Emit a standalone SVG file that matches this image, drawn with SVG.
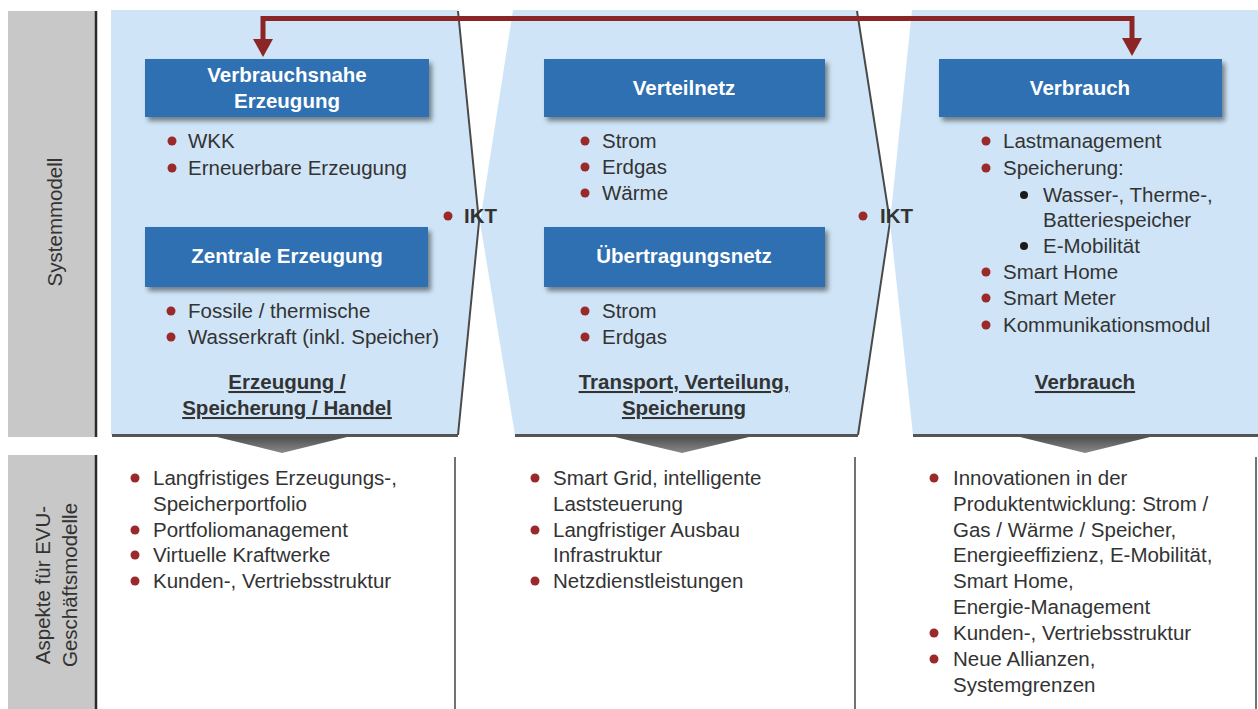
<svg xmlns="http://www.w3.org/2000/svg" width="1258" height="709" viewBox="0 0 1258 709">
<style>
.side{fill:#c8c8c8}
.sideln{stroke:#2a2a2a;stroke-width:2.5}
.panel{fill:#cfe5f7}
.edge{fill:none;stroke:#4a4a4a;stroke-width:2}
.bot{stroke:#555;stroke-width:3}
.box{fill:#2d6fb2;filter:url(#sh)}
.bt{font-family:"Liberation Sans",Arial,sans-serif;font-size:20.5px;font-weight:bold;fill:#fff;text-anchor:middle}
.t{font-family:"Liberation Sans",Arial,sans-serif;font-size:20.5px;fill:#333}
.tb{font-family:"Liberation Sans",Arial,sans-serif;font-size:20.5px;font-weight:bold;fill:#333}
.ul{font-family:"Liberation Sans",Arial,sans-serif;font-size:20.5px;font-weight:bold;fill:#333;text-anchor:middle;text-decoration:underline}
.dot{fill:#9a2a2a}
.bdot{fill:#1a1a1a}
.div{stroke:#444;stroke-width:1.5}
.arrow{fill:none;stroke:#8c2626;stroke-width:5}
.tri{fill:url(#g)}
</style>
<defs>
<filter id="sh" x="-10%" y="-20%" width="125%" height="160%">
<feDropShadow dx="3" dy="4" stdDeviation="2.5" flood-color="#000" flood-opacity="0.45"/>
</filter>
<linearGradient id="g" x1="0" y1="0" x2="0" y2="1">
<stop offset="0" stop-color="#505050"/>
<stop offset="1" stop-color="#8a8a8a"/>
</linearGradient>
<marker id="ah" viewBox="0 0 18 20" refX="2" refY="10" markerWidth="18" markerHeight="20" markerUnits="userSpaceOnUse" orient="auto-start-reverse">
<path d="M0,0 L18,10 L0,20 Z" fill="#8c2626"/>
</marker>
</defs>
<rect width="1258" height="709" fill="#fff"/>

<g id="sidebar-top">
<rect class="side" x="8" y="11" width="87" height="426"/>
<line class="sideln" x1="96" y1="11" x2="96" y2="437"/>
<text class="t" transform="translate(62,222) rotate(-90)" text-anchor="middle" font-size="21.5">Systemmodell</text>
</g>
<g id="sidebar-bottom">
<rect class="side" x="8" y="455" width="87" height="254"/>
<line class="sideln" x1="96" y1="455" x2="96" y2="709"/>
<text class="t" transform="translate(50,585) rotate(-90)" text-anchor="middle" font-size="21">Aspekte für EVU-</text>
<text class="t" transform="translate(77,585) rotate(-90)" text-anchor="middle" font-size="21">Geschäftsmodelle</text>
</g>

<g id="panel1">
<polygon class="panel" points="111,10 458,10 479,222 458,435 111,435"/>
<polyline class="edge" points="458,11 479,222 458,435"/>
<line class="bot" x1="112" y1="435.5" x2="458" y2="435.5"/>
<polygon class="tri" points="217,437 347,437 282,453"/>
<text class="ul" x="287" y="389">Erzeugung /</text>
<text class="ul" x="287" y="415">Speicherung / Handel</text>
</g>
<g id="panel2">
<polygon class="panel" points="513,10 857,10 890,222 858,435 515,435 480,222"/>
<polyline class="edge" points="857,11 890,222 858,435"/>
<line class="bot" x1="515" y1="435.5" x2="858" y2="435.5"/>
<polygon class="tri" points="615,437 749,437 682,453"/>
<text class="ul" x="684" y="389">Transport, Verteilung,</text>
<text class="ul" x="684" y="415">Speicherung</text>
</g>
<g id="panel3">
<polygon class="panel" points="912,10 1258,10 1258,435 913,435 890,222"/>
<line class="bot" x1="913" y1="435.5" x2="1258" y2="435.5"/>
<polygon class="tri" points="1020,437 1150,437 1085,453"/>
<text class="ul" x="1085" y="389">Verbrauch</text>
</g>

<g id="connectors">
<polyline class="arrow" points="263,41 263,18.5 1132,18.5 1132,40" marker-start="url(#ah)" marker-end="url(#ah)"/>
</g>

<g id="verbrauchsnahe-erzeugung">
<rect class="box" x="145" y="59" width="284" height="58"/>
<text class="bt" x="287" y="82">Verbrauchsnahe</text>
<text class="bt" x="287" y="108">Erzeugung</text>
<circle class="dot" cx="172" cy="141" r="4.5"/><text class="t" x="188" y="148">WKK</text>
<circle class="dot" cx="172" cy="168" r="4.5"/><text class="t" x="188" y="175">Erneuerbare Erzeugung</text>
</g>
<g id="zentrale-erzeugung">
<rect class="box" x="145" y="227" width="283" height="60"/>
<text class="bt" x="287" y="263">Zentrale Erzeugung</text>
<circle class="dot" cx="171" cy="311" r="4.5"/><text class="t" x="188" y="318">Fossile / thermische</text>
<circle class="dot" cx="171" cy="337" r="4.5"/><text class="t" x="188" y="344">Wasserkraft (inkl. Speicher)</text>
</g>
<g id="ikt1">
<circle class="dot" cx="448" cy="216" r="4.5"/><text class="tb" x="464" y="223">IKT</text>
</g>
<g id="verteilnetz">
<rect class="box" x="544" y="59" width="281" height="58"/>
<text class="bt" x="684" y="95">Verteilnetz</text>
<circle class="dot" cx="585" cy="141" r="4.5"/><text class="t" x="602" y="148">Strom</text>
<circle class="dot" cx="585" cy="167" r="4.5"/><text class="t" x="602" y="174">Erdgas</text>
<circle class="dot" cx="585" cy="193" r="4.5"/><text class="t" x="602" y="200">Wärme</text>
</g>
<g id="uebertragungsnetz">
<rect class="box" x="544" y="227" width="281" height="60"/>
<text class="bt" x="684" y="263">Übertragungsnetz</text>
<circle class="dot" cx="585" cy="311" r="4.5"/><text class="t" x="602" y="318">Strom</text>
<circle class="dot" cx="585" cy="337" r="4.5"/><text class="t" x="602" y="344">Erdgas</text>
</g>
<g id="ikt2">
<circle class="dot" cx="863" cy="216" r="4.5"/><text class="tb" x="880" y="223">IKT</text>
</g>
<g id="verbrauch">
<rect class="box" x="939" y="59" width="283" height="58"/>
<text class="bt" x="1080" y="95">Verbrauch</text>
<circle class="dot" cx="986" cy="141" r="4.5"/><text class="t" x="1003" y="148">Lastmanagement</text>
<circle class="dot" cx="986" cy="168" r="4.5"/><text class="t" x="1003" y="175">Speicherung:</text>
<circle class="bdot" cx="1024" cy="195" r="4"/><text class="t" x="1043" y="202">Wasser-, Therme-,</text>
<text class="t" x="1043" y="227">Batteriespeicher</text>
<circle class="bdot" cx="1024" cy="246" r="4"/><text class="t" x="1043" y="253">E-Mobilität</text>
<circle class="dot" cx="986" cy="272" r="4.5"/><text class="t" x="1003" y="279">Smart Home</text>
<circle class="dot" cx="986" cy="298" r="4.5"/><text class="t" x="1003" y="305">Smart Meter</text>
<circle class="dot" cx="986" cy="325" r="4.5"/><text class="t" x="1003" y="332">Kommunikationsmodul</text>
</g>

<g id="dividers">
<line class="div" x1="455" y1="457" x2="455" y2="709"/>
<line class="div" x1="855" y1="457" x2="855" y2="709"/>
<line class="div" x1="1256" y1="457" x2="1256" y2="709"/>
</g>

<g id="aspekte-erzeugung">
<circle class="dot" cx="135" cy="478" r="4.5"/><text class="t" x="153" y="485">Langfristiges Erzeugungs-,</text>
<text class="t" x="153" y="511">Speicherportfolio</text>
<circle class="dot" cx="135" cy="530" r="4.5"/><text class="t" x="153" y="537">Portfoliomanagement</text>
<circle class="dot" cx="135" cy="555" r="4.5"/><text class="t" x="153" y="562">Virtuelle Kraftwerke</text>
<circle class="dot" cx="135" cy="581" r="4.5"/><text class="t" x="153" y="588">Kunden-, Vertriebsstruktur</text>
</g>
<g id="aspekte-transport">
<circle class="dot" cx="535" cy="478" r="4.5"/><text class="t" x="553" y="485">Smart Grid, intelligente</text>
<text class="t" x="553" y="511">Laststeuerung</text>
<circle class="dot" cx="535" cy="530" r="4.5"/><text class="t" x="553" y="537">Langfristiger Ausbau</text>
<text class="t" x="553" y="562">Infrastruktur</text>
<circle class="dot" cx="535" cy="581" r="4.5"/><text class="t" x="553" y="588">Netzdienstleistungen</text>
</g>
<g id="aspekte-verbrauch">
<circle class="dot" cx="934" cy="478" r="4.5"/><text class="t" x="953" y="485">Innovationen in der</text>
<text class="t" x="953" y="511">Produktentwicklung: Strom /</text>
<text class="t" x="953" y="537">Gas / Wärme / Speicher,</text>
<text class="t" x="953" y="562">Energieeffizienz, E-Mobilität,</text>
<text class="t" x="953" y="588">Smart Home,</text>
<text class="t" x="953" y="614">Energie-Management</text>
<circle class="dot" cx="934" cy="633" r="4.5"/><text class="t" x="953" y="640">Kunden-, Vertriebsstruktur</text>
<circle class="dot" cx="934" cy="659" r="4.5"/><text class="t" x="953" y="666">Neue Allianzen,</text>
<text class="t" x="953" y="692">Systemgrenzen</text>
</g>
</svg>
